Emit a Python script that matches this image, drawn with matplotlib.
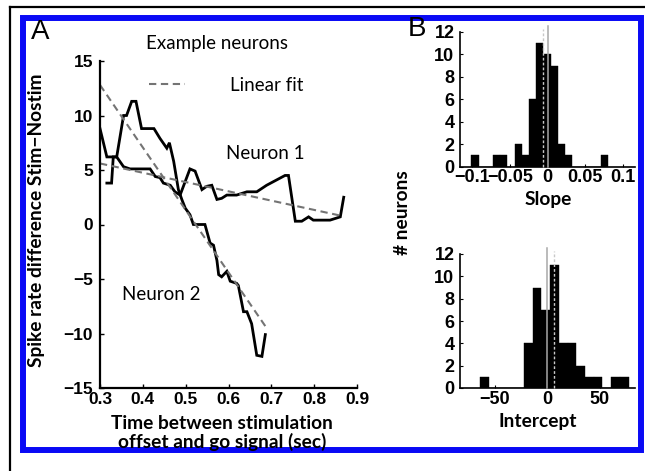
import matplotlib
matplotlib.use("Agg")
import matplotlib.pyplot as plt
import numpy as np
from matplotlib.lines import Line2D
from matplotlib.patches import Rectangle

# ---------------- data ----------------
n1_x = [0.300, 0.316, 0.339, 0.355, 0.370, 0.417, 0.429, 0.440, 0.448, 0.464, 0.475, 0.487,
        0.510, 0.522, 0.538, 0.549, 0.561, 0.573, 0.584, 0.596, 0.619, 0.643, 0.666, 0.689,
        0.732, 0.740, 0.756, 0.771, 0.787, 0.798, 0.837, 0.861, 0.869]
n1_y = [8.8, 6.2, 6.2, 5.3, 5.1, 5.1, 4.4, 4.3, 3.8, 3.6, 3.0, 2.7,
        5.1, 4.9, 3.2, 3.5, 3.6, 2.3, 2.4, 2.7, 2.7, 3.0, 3.0, 3.6,
        4.5, 4.5, 0.3, 0.3, 0.7, 0.4, 0.4, 0.7, 2.5]

n2_x = [0.316, 0.327, 0.331, 0.339, 0.355, 0.362, 0.374, 0.384, 0.397, 0.426, 0.440, 0.456,
        0.462, 0.472, 0.483, 0.491, 0.499, 0.510, 0.518, 0.545, 0.557, 0.565, 0.573, 0.577,
        0.584, 0.596, 0.604, 0.619, 0.623, 0.635, 0.643, 0.654, 0.666, 0.678, 0.686]
n2_y = [3.8, 3.8, 6.2, 6.2, 10.0, 10.0, 11.3, 11.3, 8.8, 8.8, 7.9, 7.0,
        7.5, 5.8, 3.2, 2.3, 1.5, 0.9, 0.0, 0.0, -1.7, -1.9, -3.3, -4.6,
        -4.8, -4.3, -5.2, -5.4, -5.6, -8.0, -8.0, -9.1, -12.0, -12.1, -10.1]

fit1_x = [0.300, 0.869]
fit1_y = [5.6, 0.75]
fit2_x = [0.300, 0.689]
fit2_y = [12.8, -9.5]

slope_bin_start = -0.1010
slope_bin_width = 0.00956
slope_counts = [1, 0, 0, 1, 1, 0, 2, 1, 6, 11, 10, 9, 2, 1, 0, 0, 0, 0, 1]
slope_zero = 0.0
slope_mean = -0.0060

icpt_bin_start = -63.5
icpt_bin_width = 8.31
icpt_counts = [1, 0, 0, 0, 0, 4, 9, 7, 11, 4, 4, 2, 1, 1, 0, 1, 1]
icpt_zero = 0.0
icpt_mean = 6.7

a_xticks = [0.3, 0.4, 0.5, 0.6, 0.7, 0.8, 0.9]
a_yticks = [-15, -10, -5, 0, 5, 10, 15]
slope_xticks = [-0.1, -0.05, 0, 0.05, 0.1]
slope_xticklabels = ["\u22120.1", "\u22120.05", "0", "0.05", "0.1"]
icpt_xticks = [-50, 0, 50]
hist_yticks = [0, 2, 4, 6, 8, 10, 12]

# ---------------- figure ----------------
W, H = 645, 471
fig = plt.figure(figsize=(W / 100, H / 100), dpi=100)

def fx(px):
    return px / W

def fy(py):
    return 1 - py / H

TICK_A = dict(family="Liberation Sans", weight="bold", size=12.5)
TICK_B = dict(family="Liberation Sans", weight="bold", size=13)
LABFONT = "Lato"
LABSIZE = 13.8
ANNSIZE = 13.5

# borders
fig.add_artist(Line2D([fx(10), 1.0], [fy(7), fy(7)], color="black", lw=1.6,
                      transform=fig.transFigure))
fig.add_artist(Line2D([fx(10), fx(10)], [0, fy(7)], color="black", lw=1.6,
                      transform=fig.transFigure))
fig.add_artist(Rectangle((fx(22.5), fy(450)), fx(641) - fx(22.5), fy(18) - fy(450),
                         fill=False, edgecolor="#0a0af5", lw=4.3,
                         transform=fig.transFigure))

# ---------------- panel A ----------------
axA = fig.add_axes([fx(100), fy(388), fx(357) - fx(100), fy(61) - fy(388)])
axA.plot(n1_x, n1_y, color="black", lw=2.0, solid_joinstyle="miter")
axA.plot(n2_x, n2_y, color="black", lw=2.0, solid_joinstyle="miter")
axA.plot(fit1_x, fit1_y, color="#747474", lw=1.5, dashes=(3.5, 2.2))
axA.plot(fit2_x, fit2_y, color="#747474", lw=1.5, dashes=(3.5, 2.2))
axA.set_xlim(0.3, 0.9)
axA.set_ylim(-15, 15)
axA.set_xticks(a_xticks)
axA.set_xticklabels([f"{v:.1f}" for v in a_xticks], fontdict=TICK_A)
axA.set_yticks(a_yticks)
axA.set_yticklabels([str(v).replace("-", "\u2212") for v in a_yticks], fontdict=TICK_A)
for s in ["top", "right"]:
    axA.spines[s].set_visible(False)
for s in ["left", "bottom"]:
    axA.spines[s].set_linewidth(1.6)
axA.tick_params(direction="in", length=3, width=1.0, pad=3)
axA.tick_params(axis="y", pad=5)

leg_handle = Line2D([], [], color="#747474", lw=1.5, dashes=(3.5, 2.2))
axA.legend([leg_handle], ["Linear fit"], loc="center", bbox_to_anchor=(0.49, 0.925),
           frameon=False, handlelength=1.9, handletextpad=2.4,
           prop=dict(family=LABFONT, size=ANNSIZE))

axA.text(0.6855, 6.47, "Neuron 1", family=LABFONT, size=ANNSIZE, ha="center", va="center")
axA.text(0.4425, -6.4, "Neuron 2", family=LABFONT, size=ANNSIZE, ha="center", va="center")

fig.text(fx(217), fy(43), "Example neurons", family=LABFONT, size=ANNSIZE, ha="center", va="center")
fig.text(fx(222), fy(433), "Time between stimulation\noffset and go signal (sec)",
         family=LABFONT, weight="bold", size=LABSIZE, ha="center", va="center", linespacing=1.0)
fig.text(fx(37), fy(220), "Spike rate difference Stim\u2212Nostim", family=LABFONT,
         weight="bold", size=LABSIZE, ha="center", va="center", rotation=90)
fig.text(fx(40), fy(32), "A", family="Liberation Sans", size=20, ha="center", va="center")
fig.text(fx(417), fy(29), "B", family="Liberation Sans", size=20, ha="center", va="center")

# ---------------- panel B ----------------
def hist_axes(rect, start, width, counts, zero, mean, xlim, xticks, xticklabels, xlabel, xlab_pos):
    ax = fig.add_axes(rect)
    edges = start + width * np.arange(len(counts))
    ax.bar(edges, counts, width=width, align="edge", color="black", edgecolor="black", lw=0.3)
    ax.plot([zero, zero], [0, 12.5], color="#a8a8a8", lw=1.1, clip_on=False, zorder=3)
    ax.plot([mean, mean], [0, 12.3], color="#c8c8c8", lw=1.0, dashes=(2, 1.5),
            clip_on=False, zorder=3)
    ax.set_xlim(*xlim)
    ax.set_ylim(0, 12)
    ax.set_xticks(xticks)
    ax.set_xticklabels(xticklabels, fontdict=TICK_B)
    ax.set_yticks(hist_yticks)
    ax.set_yticklabels([str(v) for v in hist_yticks], fontdict=TICK_B)
    for s in ["top", "right"]:
        ax.spines[s].set_visible(False)
    for s in ["left", "bottom"]:
        ax.spines[s].set_linewidth(1.2)
    ax.tick_params(direction="in", length=2.5, width=0.8, pad=2)
    ax.tick_params(axis="y", pad=4)
    fig.text(fx(xlab_pos[0]), fy(xlab_pos[1]), xlabel, family=LABFONT, weight="bold",
             size=LABSIZE, ha="center", va="center")
    return ax

hist_axes([fx(460), fy(166.5), fx(635) - fx(460), fy(32) - fy(166.5)],
          slope_bin_start, slope_bin_width, slope_counts, slope_zero, slope_mean,
          (-0.116, 0.116), slope_xticks, slope_xticklabels, "Slope", (548, 199))

hist_axes([fx(460), fy(388), fx(635) - fx(460), fy(254) - fy(388)],
          icpt_bin_start, icpt_bin_width, icpt_counts, icpt_zero, icpt_mean,
          (-82.9, 83.8), icpt_xticks, ["\u221250", "0", "50"], "Intercept", (538, 422))

fig.text(fx(403), fy(213), "# neurons", family=LABFONT, weight="bold", size=LABSIZE,
         ha="center", va="center", rotation=90)

fig.savefig("out.png", dpi=100)
